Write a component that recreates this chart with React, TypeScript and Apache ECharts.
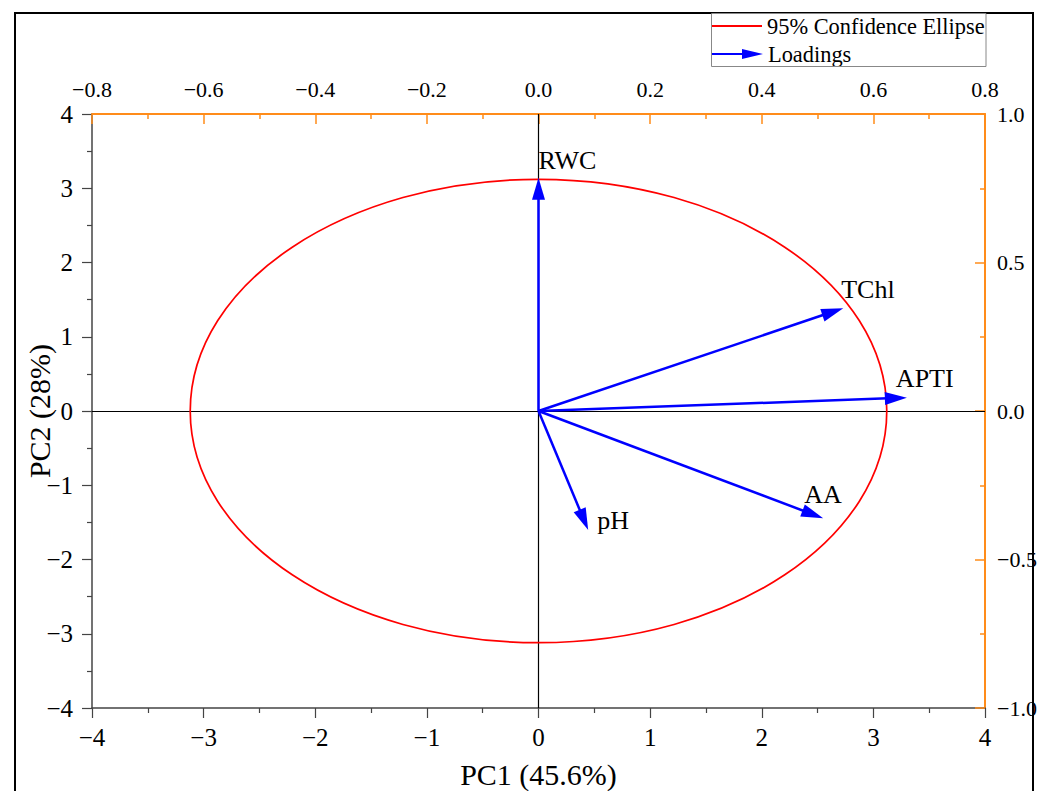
import React, { useEffect, useRef } from 'react';
import * as echarts from 'echarts';

// ---- data ----
const loadingNames = ['RWC', 'TChl', 'APTI', 'AA', 'pH'];
const loadingPC1 = [0.0, 0.546, 0.66, 0.51, 0.089];
const loadingPC2 = [0.785, 0.346, 0.045, -0.361, -0.401];
const ellipseCenter = [0, 0];
const ellipseRadii = [3.12, 3.12];
const pc1Range = [-4, 4];
const pc2Range = [-4, 4];
const loadX = [-0.8, 0.8];
const loadY = [-1.0, 1.0];
const legendNames = ['95% Confidence Ellipse', 'Loadings'];
const axisNames = ['PC1 (45.6%)', 'PC2 (28%)'];

// ---- styling ----
const FONT = '"Liberation Serif", "Times New Roman", serif';
const ORANGE = '#ff8c1a';
const AXIS_GRAY = '#444';
const labelOffsets: number[][] = [
  [0, -17],
  [-2, -19],
  [-11, -19],
  [-19, -24],
  [9, -10],
];

const fmt = (d: number) => (v: number) =>
  (v < -1e-9 ? '\u2212' : '') + Math.abs(v).toFixed(d);

export default function App() {
  const ref = useRef<HTMLDivElement>(null);

  useEffect(() => {
    if (!ref.current) return;
    const chart = echarts.init(ref.current, undefined, { renderer: 'svg' });

    const blackAxis = (pos: 'bottom' | 'left', margin: number) => ({
      type: 'value' as const,
      position: pos,
      axisLine: { show: true, onZero: false, lineStyle: { color: AXIS_GRAY, width: 1.5 } },
      axisTick: { show: true, inside: false, length: 10, lineStyle: { color: AXIS_GRAY, width: 1.2 } },
      minorTick: { show: true, splitNumber: 2, length: 5, lineStyle: { color: AXIS_GRAY, width: 1.2 } },
      splitLine: { show: false },
      minorSplitLine: { show: false },
      axisLabel: {
        fontSize: 25,
        fontFamily: FONT,
        color: '#000',
        margin,
        showMinLabel: true,
        showMaxLabel: true,
        formatter: fmt(0),
      },
      nameLocation: 'middle' as const,
      nameMoveOverlap: false,
      nameTextStyle: { fontSize: 30, fontFamily: FONT, color: '#000' },
    });

    const orangeAxis = (pos: 'top' | 'right', margin: number) => ({
      type: 'value' as const,
      position: pos,
      axisLine: { show: true, onZero: false, lineStyle: { color: ORANGE, width: 2 } },
      axisTick: { show: true, inside: true, length: 10, lineStyle: { color: ORANGE, width: 1.5 } },
      minorTick: { show: true, splitNumber: 2, length: 5, lineStyle: { color: ORANGE, width: 1.5 } },
      splitLine: { show: false },
      minorSplitLine: { show: false },
      axisLabel: {
        fontSize: 22,
        fontFamily: FONT,
        color: '#000',
        margin,
        showMinLabel: true,
        showMaxLabel: true,
        formatter: fmt(1),
      },
    });

    const option: any = {
      animation: false,
      backgroundColor: '#fff',
      grid: {
        left: 92,
        right: 62,
        top: 114,
        bottom: 83,
        containLabel: false,
        outerBoundsMode: 'none',
      },
      xAxis: [
        {
          ...blackAxis('bottom', 17),
          min: pc1Range[0],
          max: pc1Range[1],
          interval: 1,
          name: axisNames[0],
          nameGap: 51,
        },
        {
          ...orangeAxis('top', 14),
          min: loadX[0],
          max: loadX[1],
          interval: 0.2,
        },
      ],
      yAxis: [
        {
          ...blackAxis('left', 19),
          min: pc2Range[0],
          max: pc2Range[1],
          interval: 1,
          name: axisNames[1],
          nameGap: 38,
        },
        {
          ...orangeAxis('right', 12),
          min: loadY[0],
          max: loadY[1],
          interval: 0.5,
        },
      ],
      legend: [
        {
          data: [{ name: legendNames[0], icon: 'rect' }],
          left: 711,
          top: 15,
          padding: 0,
          itemWidth: 51,
          itemHeight: 2,
          selectedMode: false,
          textStyle: { fontSize: 22.4, fontFamily: FONT, color: '#000' },
        },
        {
          data: [{ name: legendNames[1], icon: 'path://M0,4L31,4L31,0L52,5L31,10L31,6L0,6Z' }],
          left: 711,
          top: 43,
          padding: 0,
          itemWidth: 52,
          itemHeight: 10,
          selectedMode: false,
          textStyle: { fontSize: 22.4, fontFamily: FONT, color: '#000' },
        },
      ],
      graphic: [
        {
          type: 'rect',
          shape: { x: 15, y: 13, width: 1018, height: 800 },
          style: { fill: 'none', stroke: '#000', lineWidth: 2 },
          silent: true,
          z: 100,
        },
        {
          type: 'rect',
          shape: { x: 711.5, y: 13.5, width: 274.5, height: 53 },
          style: { fill: 'none', stroke: '#888', lineWidth: 1 },
          silent: true,
          z: 100,
        },
      ],
      series: [
        {
          type: 'line',
          name: 'zero',
          xAxisIndex: 0,
          yAxisIndex: 0,
          data: [[0, 0]],
          showSymbol: false,
          symbolSize: 0,
          lineStyle: { width: 0 },
          silent: true,
          z: 1,
          markLine: {
            silent: true,
            animation: false,
            z: 1,
            symbol: ['none', 'none'],
            label: { show: false },
            emphasis: { disabled: true },
            lineStyle: { color: '#000', width: 1.2, type: 'solid' },
            data: [{ xAxis: 0 }, { yAxis: 0 }],
          },
        },
        {
          type: 'custom',
          name: legendNames[0],
          xAxisIndex: 0,
          yAxisIndex: 0,
          silent: true,
          z: 2,
          itemStyle: { color: '#ff0000' },
          data: [[ellipseCenter[0], ellipseCenter[1], ellipseRadii[0], ellipseRadii[1]]],
          renderItem: (_params: any, api: any) => {
            const c = api.coord([api.value(0), api.value(1)]);
            const s = api.size([api.value(2), api.value(3)], [api.value(0), api.value(1)]);
            return {
              type: 'ellipse',
              shape: { cx: c[0], cy: c[1], rx: s[0], ry: s[1] },
              style: { fill: 'none', stroke: '#ff0000', lineWidth: 1.7 },
            };
          },
        },
        {
          type: 'custom',
          name: legendNames[1],
          xAxisIndex: 1,
          yAxisIndex: 1,
          silent: true,
          z: 10,
          itemStyle: { color: '#0000ff' },
          data: loadingNames.map((n, i) => ({ name: n, value: [loadingPC1[i], loadingPC2[i]] })),
          renderItem: (params: any, api: any) => {
            const i = params.dataIndex;
            const o = api.coord([0, 0]);
            const t = api.coord([api.value(0), api.value(1)]);
            const dx = t[0] - o[0];
            const dy = t[1] - o[1];
            const len = Math.hypot(dx, dy) || 1;
            const ux = dx / len;
            const uy = dy / len;
            const hl = 22;
            const hw = 6.5;
            const bx = t[0] - ux * hl;
            const by = t[1] - uy * hl;
            const px = -uy;
            const py = ux;
            const off = labelOffsets[i];
            return {
              type: 'group',
              children: [
                {
                  type: 'line',
                  shape: { x1: o[0], y1: o[1], x2: bx + ux * 3, y2: by + uy * 3 },
                  style: { stroke: '#0000ff', lineWidth: 2.5 },
                },
                {
                  type: 'polygon',
                  shape: {
                    points: [
                      [t[0], t[1]],
                      [bx + px * hw, by + py * hw],
                      [bx - px * hw, by - py * hw],
                    ],
                  },
                  style: { fill: '#0000ff' },
                },
                {
                  type: 'text',
                  x: t[0] + off[0],
                  y: t[1] + off[1],
                  style: {
                    text: loadingNames[i],
                    fill: '#000',
                    fontSize: 26,
                    fontFamily: FONT,
                    align: 'left',
                    verticalAlign: 'middle',
                  },
                },
              ],
            };
          },
        },
      ],
    };

    chart.setOption(option);
    return () => chart.dispose();
  }, []);

  return (
    <div
      ref={ref}
      style={{ position: 'absolute', left: 0, top: 0, width: 1047, height: 791 }}
    />
  );
}
